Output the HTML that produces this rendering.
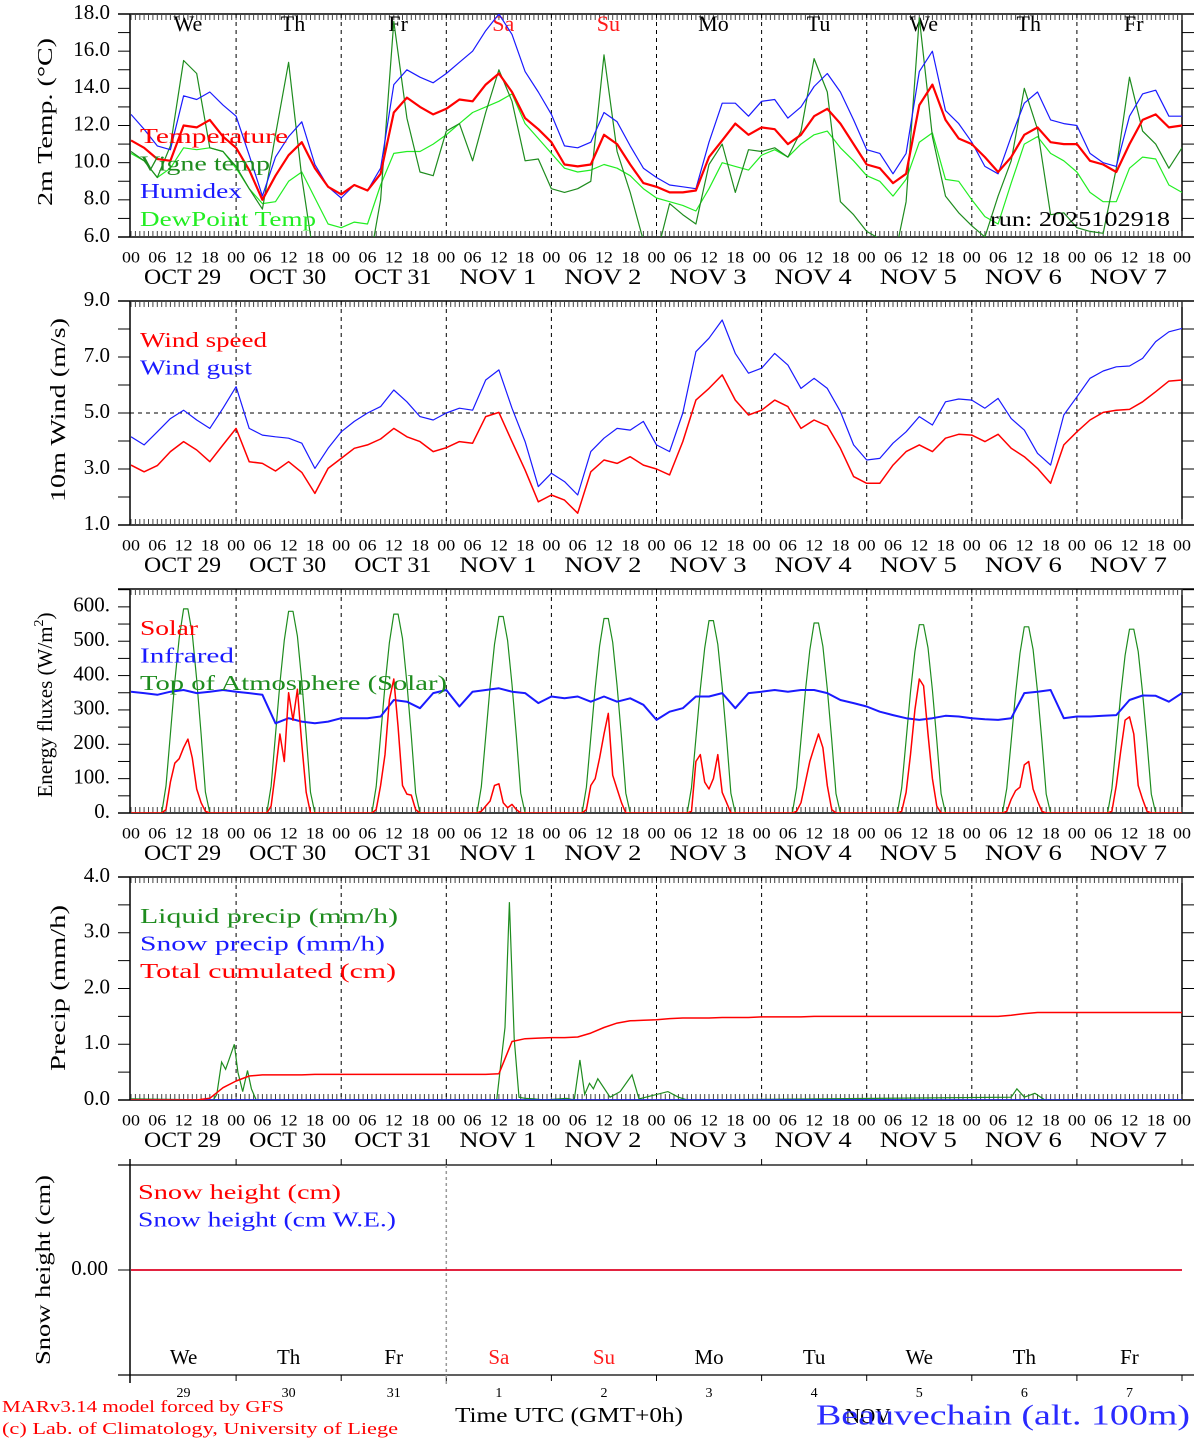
<!DOCTYPE html>
<html><head><meta charset="utf-8"><title>MAR forecast Beauvechain</title>
<style>
html,body{margin:0;padding:0;background:#fff;}
svg{display:block;font-family:"Liberation Serif",serif;}
</style></head>
<body>
<svg id="chart" xmlns="http://www.w3.org/2000/svg" width="1194" height="1440" viewBox="0 0 1194 1440"></svg>
<script>
// ---------- DATA (3-hourly, 81 points from Oct 29 00 UTC) ----------
const dayNames = ["We","Th","Fr","Sa","Su","Mo","Tu","We","Th","Fr"];
const dayNums = ["29","30","31","1","2","3","4","5","6","7"];
const dateLabels = ["OCT 29","OCT 30","OCT 31","NOV  1","NOV  2","NOV  3","NOV  4","NOV  5","NOV  6","NOV  7"];
const hourLabels = ["00","06","12","18"];
const tempTicks = [6,8,10,12,14,16,18];
const windTicks = [1,3,5,7,9];
const fluxTicks = [0,100,200,300,400,500,600];
const precipTicks = [0,1,2,3,4];

const temperature = [11.2,10.8,10.2,10.1,12.0,11.9,12.3,11.4, 10.8,9.6,8.0,9.3,10.4,11.1,9.7,8.7, 8.3,8.8,8.5,9.4,12.7,13.5,13.0,12.6, 12.9,13.4,13.3,14.2,14.8,13.8,12.4,11.8, 11.1,9.9,9.8,9.9,11.5,11.0,9.9,8.9, 8.7,8.4,8.4,8.5,10.3,11.2,12.1,11.5, 11.9,11.8,11.0,11.5,12.5,12.9,12.1,11.0, 9.9,9.7,8.9,9.4,13.1,14.2,12.3,11.3, 11.0,10.3,9.5,10.3,11.5,11.9,11.1,11.0, 11.0,10.1,9.9,9.5,11.0,12.3,12.6,11.9,12.0];
const humidex = [12.6,11.8,10.9,10.7,13.6,13.4,13.8,13.1, 12.5,10.4,8.2,10.3,11.4,12.2,9.9,8.7, 8.1,8.8,8.5,9.7,14.2,15.0,14.6,14.3, 14.8,15.4,16.0,17.1,18.0,16.9,14.9,13.8, 12.6,10.9,10.8,11.1,12.7,12.2,10.9,9.7, 9.2,8.8,8.7,8.6,11.1,13.2,13.2,12.5, 13.3,13.4,12.4,13.0,14.1,14.8,13.8,12.3, 10.7,10.5,9.4,10.5,14.9,16.0,12.8,12.1, 11.1,9.8,9.4,11.4,13.2,13.8,12.3,12.1, 12.0,10.5,10.0,9.8,12.5,13.7,13.9,12.5,12.5];
const dewpoint = [10.5,10.1,9.2,9.7,10.8,10.7,10.8,10.6, 9.7,8.6,7.8,7.9,9.0,9.5,8.1,6.7, 6.5,6.8,6.7,8.8,10.5,10.6,10.6,11.0, 11.5,12.1,12.7,13.0,13.3,13.7,12.1,11.3, 10.5,9.7,9.5,9.6,9.9,9.7,9.3,8.6, 8.1,7.9,7.7,7.4,8.6,10.0,9.8,9.6, 10.4,10.7,10.3,11.0,11.5,11.7,10.8,10.1, 9.3,9.0,8.2,9.1,11.1,11.6,9.1,9.0, 8.0,7.1,6.7,8.9,11.0,11.4,10.5,10.1, 9.5,8.4,7.9,7.9,9.7,10.3,10.2,8.8,8.4];
const vigne = [10.6,10.1,9.2,10.9,15.5,14.8,10.8,10.6, 9.8,8.6,7.5,11.5,15.4,9.2,4.5,4.0, 4.0,4.0,4.0,8.0,17.6,12.4,9.5,9.3, 11.7,12.1,10.1,12.7,15.0,13.3,10.1,10.2, 8.6,8.4,8.6,9.0,15.8,10.6,8.4,5.8, 5.0,7.8,7.2,6.7,9.9,11.0,8.4,10.7, 10.6,10.8,10.3,11.7,15.6,13.8,7.9,7.2, 6.3,5.9,4.5,7.9,17.8,11.4,8.2,7.3, 6.6,6.0,8.2,10.1,14.0,11.8,7.2,7.3, 6.5,6.3,6.2,9.7,14.6,11.7,11.0,9.7,10.8];

const windSpeed = [3.14,2.9,3.12,3.62,3.98,3.68,3.26,3.86, 4.45,3.26,3.2,2.93,3.26,2.88,2.13,3.02, 3.38,3.74,3.86,4.07,4.45,4.15,3.98,3.62, 3.76,3.98,3.92,4.87,5.02,3.98,2.96,1.83, 2.07,1.89,1.42,2.9,3.32,3.2,3.44,3.14, 3.0,2.79,3.98,5.46,5.88,6.36,5.46,4.93, 5.1,5.46,5.23,4.45,4.75,4.54,3.74,2.73, 2.49,2.49,3.14,3.62,3.86,3.62,4.1,4.24, 4.21,3.98,4.24,3.74,3.44,3.02,2.49,3.86, 4.33,4.75,5.02,5.1,5.13,5.4,5.76,6.14,6.18];
const windGust = [4.15,3.86,4.33,4.8,5.1,4.75,4.45,5.17, 5.94,4.45,4.21,4.15,4.1,3.92,3.02,3.74, 4.33,4.7,5.0,5.23,5.82,5.4,4.87,4.75, 5.0,5.17,5.1,6.18,6.54,5.17,3.98,2.37, 2.85,2.55,2.07,3.62,4.1,4.45,4.39,4.7, 3.86,3.62,5.0,7.19,7.67,8.32,7.13,6.42, 6.6,7.13,6.71,5.88,6.24,5.88,5.05,3.86, 3.32,3.38,3.92,4.33,4.87,4.57,5.4,5.5, 5.46,5.17,5.52,4.8,4.39,3.56,3.14,4.93, 5.58,6.24,6.5,6.65,6.68,6.95,7.55,7.9,8.02];

const infrared = [353,349,344,353,358,349,353,358, 353,349,344,261,276,266,261,266, 276,276,276,281,329,324,305,349, 358,310,353,358,363,353,349,320, 339,334,339,324,339,324,334,315, 271,295,305,339,339,349,305,349, 353,358,353,358,358,349,329,320, 310,295,285,276,271,276,283,281, 276,273,271,276,349,353,358,276, 281,281,283,285,329,342,341,324,349];

// hourly (241 points)
const toaSolar = [
0,0,0,0,0,0,0,0,79,230,382,509,594,594,521,388,230,61,0,0,0,0,0,0,
0,0,0,0,0,0,0,0,78,228,377,503,587,587,515,383,228,60,0,0,0,0,0,0,
0,0,0,0,0,0,0,0,77,225,372,496,579,579,508,378,225,59,0,0,0,0,0,0,
0,0,0,0,0,0,0,0,76,222,368,491,572,572,502,374,222,58,0,0,0,0,0,0,
0,0,0,0,0,0,0,0,75,220,364,486,566,566,497,370,220,58,0,0,0,0,0,0,
0,0,0,0,0,0,0,0,74,217,360,480,560,560,491,365,217,57,0,0,0,0,0,0,
0,0,0,0,0,0,0,0,73,214,355,474,553,553,485,361,214,56,0,0,0,0,0,0,
0,0,0,0,0,0,0,0,73,212,352,470,548,548,481,358,212,56,0,0,0,0,0,0,
0,0,0,0,0,0,0,0,72,210,348,465,542,542,476,354,210,55,0,0,0,0,0,0,
0,0,0,0,0,0,0,0,71,207,344,459,535,535,470,349,207,55,0,0,0,0,0,0,0];
const solar = [
0,0,0,0,0,0,0,0,10,90,145,158,190,215,160,70,30,5,0,0,0,0,0,0,
0,0,0,0,0,0,0,0,20,120,230,150,350,270,360,200,60,0,0,0,0,0,0,0,
0,0,0,0,0,0,0,0,10,80,170,330,390,250,80,55,52,10,0,0,0,0,0,0,
0,0,0,0,0,0,0,0,5,20,35,80,85,30,15,25,10,0,0,0,0,0,0,0,
0,0,0,0,0,0,0,0,10,80,100,160,230,290,110,70,30,0,0,0,0,0,0,0,
0,0,0,0,0,0,0,0,5,150,170,90,70,100,170,60,30,0,0,0,0,0,0,0,
0,0,0,0,0,0,0,0,5,30,90,150,190,230,190,80,10,0,0,0,0,0,0,0,
0,0,0,0,0,0,0,0,5,60,170,300,390,370,230,100,20,0,0,0,0,0,0,0,
0,0,0,0,0,0,0,0,5,40,65,75,140,150,70,35,5,0,0,0,0,0,0,0,
0,0,0,0,0,0,0,0,5,80,180,270,280,230,80,40,5,0,0,0,0,0,0,0,0];

const liquidHours = [0,18.8,19.6,20.7,21.6,22.5,23.6,24.4,25.5,26.6,27.5,28.6,83.5,85.4,86.4,87.5,88.6,89.9,92,94.3,99.5,101.2,102.5,103.6,104.7,105.6,106.6,109.4,111.7,114.4,116,122.6,125,127,201,202.3,204,206.4,208.7,240];
const liquidVals  = [0.02,0,0.1,0.68,0.55,0.75,1.0,0.5,0.15,0.53,0.2,0,0,1.3,3.55,1.1,0.05,0.03,0.02,0,0.03,0,0.72,0.1,0.3,0.2,0.38,0.05,0.15,0.45,0.02,0.15,0.05,0,0.05,0.2,0.05,0.12,0,0];
const snowPrecip = [0,0,0,0,0,0,0,0,0,0,0];
const totalCum = [0,0,0,0,0,0,0.03,0.22, 0.34,0.43,0.45,0.45,0.45,0.45,0.46,0.46, 0.46,0.46,0.46,0.46,0.46,0.46,0.46,0.46, 0.46,0.46,0.46,0.46,0.47,1.05,1.1,1.11, 1.12,1.12,1.13,1.2,1.3,1.38,1.42,1.43, 1.44,1.46,1.47,1.47,1.47,1.48,1.48,1.48, 1.49,1.49,1.49,1.49,1.5,1.5,1.5,1.5, 1.5,1.5,1.5,1.5,1.5,1.5,1.5,1.5, 1.5,1.5,1.5,1.52,1.55,1.57,1.57,1.57, 1.57,1.57,1.57,1.57,1.57,1.57,1.57,1.57,1.57];
const snowHeight = [0,0,0,0,0,0,0,0,0,0,0];
const snowWE = [0,0,0,0,0,0,0,0,0,0,0];

// ---------- DRAWING ----------
const NS = "http://www.w3.org/2000/svg";
const svg = document.getElementById("chart");
const X0 = 131, X1 = 1182;
function xh(h){ return X0 + h*(X1-X0)/240; }
function mk(tag, attrs, parent){
  const e = document.createElementNS(NS, tag);
  for (const k in attrs) e.setAttribute(k, attrs[k]);
  (parent||svg).appendChild(e);
  return e;
}
function txt(str, x, y, opt, name){
  const e = mk("text", {x:x, y:y, "font-size":opt.size||20, fill:opt.fill||"#000", "text-anchor":opt.anchor||"start", "dominant-baseline":"middle"});
  if (opt.len){ e.setAttribute("textLength", opt.len); e.setAttribute("lengthAdjust","spacingAndGlyphs"); }
  if (opt.rot){ e.setAttribute("transform", "rotate(-90 "+x+" "+y+")"); e.setAttribute("text-anchor","middle"); }
  if (opt.weight) e.setAttribute("font-weight", opt.weight);
  e.setAttribute("xml:space","preserve");
  e.textContent = str;
  
  
  return e;
}
const panels = [
  {id:"temp", top:14, bot:237, vmin:6, vmax:18},
  {id:"wind", top:301, bot:525, vmin:1, vmax:9},
  {id:"flux", top:589, bot:813, vmin:0, vmax:652},
  {id:"precip", top:877, bot:1100, vmin:0, vmax:4},
  {id:"snow", top:1165, bot:1375, vmin:-1, vmax:1}
];
function ym(p, v){ return p.bot - (v-p.vmin)/(p.vmax-p.vmin)*(p.bot-p.top); }

const defs = mk("defs", {});
panels.forEach(p=>{
  const cp = mk("clipPath", {id:"clip-"+p.id}, defs);
  mk("rect", {x:X0, y:p.top, width:X1-X0, height:p.bot-p.top}, cp);
});

function series(p, vals, stepH, color, width, name){
  let d = "";
  vals.forEach((v,i)=>{ d += (i? "L":"M") + xh(i*stepH).toFixed(1) + "," + ym(p,v).toFixed(1); });
  const e = mk("path", {d:d, fill:"none", stroke:color, "stroke-width":width, "clip-path":"url(#clip-"+p.id+")", "stroke-linejoin":"round"});
  
  
  return e;
}
function seriesXY(p, hrs, vals, color, width, name){
  let d = "";
  vals.forEach((v,i)=>{ d += (i? "L":"M") + xh(hrs[i]).toFixed(1) + "," + ym(p,v).toFixed(1); });
  const e = mk("path", {d:d, fill:"none", stroke:color, "stroke-width":width, "clip-path":"url(#clip-"+p.id+")"});
  
  
  return e;
}

function frame(p, ticks, fmt, minorStep, hourly, axisName){
  const g = mk("g", {});
  
  
  mk("line", {x1:118, y1:p.top, x2:1194, y2:p.top, stroke:"#000", "stroke-width":1.5}, g);
  mk("line", {x1:118, y1:p.bot, x2:1194, y2:p.bot, stroke:"#000", "stroke-width":1.5}, g);
  mk("line", {x1:130, y1:p.top, x2:130, y2:p.bot+(hourly?0:8), stroke:"#000", "stroke-width":1.5}, g);
  if (hourly) mk("line", {x1:1182, y1:p.top, x2:1182, y2:p.bot, stroke:"#000", "stroke-width":1.5}, g);
  for (let v=p.vmin; v<=p.vmax+1e-6; v+=minorStep){
    const y = ym(p,v);
    if (y < p.top-0.5) continue;
    mk("line", {x1:118, y1:y, x2:130, y2:y, stroke:"#000", "stroke-width":1}, g);
    if (hourly) mk("line", {x1:1182, y1:y, x2:1194, y2:y, stroke:"#000", "stroke-width":1}, g);
  }
  ticks.forEach(v=>{
    txt(fmt(v), 110, ym(p,v), {size:21, anchor:"end"}, "y-tick-"+p.id);
  });
  if (hourly){
    let d = "";
    for (let h=0; h<=240; h++){
      const x = xh(h).toFixed(1);
      d += "M"+x+","+p.top+"v6M"+x+","+p.bot+"v-6";
    }
    mk("path", {d:d, stroke:"#444", "stroke-width":1}, g);
    for (let k=1;k<10;k++){
      const x = xh(k*24);
      mk("line", {x1:x, y1:p.top, x2:x, y2:p.bot, stroke:"#000", "stroke-width":1, "stroke-dasharray":"4,4"}, g);
    }
    for (let k=0;k<10;k++){
      hourLabels.forEach((lab,j)=>{
        txt(lab, xh(k*24+j*6), p.bot+22, {size:16, anchor:"middle", len:18}, "x-tick-hour");
      });
      txt(dateLabels[k], xh(k*24+12)-1, p.bot+42, {size:22, anchor:"middle", len:77}, "x-date-label");
    }
    txt("00", xh(240), p.bot+22, {size:16, anchor:"middle", len:18}, "x-tick-hour");
  }
}
function legend(items, x, y0){
  items.forEach((it,i)=>{
    txt(it[0], x, y0+i*27.7, {size:21, fill:it[1], len:it[2]}, "legend-entry");
  });
}

// Panel 1: temperature
const p1 = panels[0];
frame(p1, tempTicks, v=>v.toFixed(1), 1, true, "temperature-axes");
txt("2m Temp. (\u00B0C)", 47, 122, {size:21, rot:true, len:168}, "y-axis-title-temp");
dayNames.forEach((d,k)=>{
  txt(d, xh(k*24+13), 26, {size:22, anchor:"middle", fill:(k==3||k==4)?"#ff1a1a":"#000"}, "day-name");
});
series(p1, dewpoint, 3, "#22ee22", 1.2, "dewpoint-line");
series(p1, vigne, 3, "#1e8c1e", 1.2, "vigne-temp-line");
series(p1, humidex, 3, "#1a1aff", 1.2, "humidex-line");
series(p1, temperature, 3, "#ff0000", 2.2, "temperature-line");
legend([["Temperature","#ff0000",148],["Vigne temp","#1e8c1e",130],["Humidex","#1a1aff",102],["DewPoint Temp","#22ee22",176]], 140, 138);
txt("run: 2025102918", 990, 221, {size:21, len:180}, "run-label");

// Panel 2: wind
const p2 = panels[1];
frame(p2, windTicks, v=>v.toFixed(1), 1, true, "wind-axes");
mk("line", {x1:130, y1:ym(p2,5), x2:1182, y2:ym(p2,5), stroke:"#000", "stroke-width":1, "stroke-dasharray":"4,4"});
txt("10m Wind (m/s)", 60, 410, {size:21, rot:true, len:184}, "y-axis-title-wind");
series(p2, windGust, 3, "#1a1aff", 1.2, "wind-gust-line");
series(p2, windSpeed, 3, "#ff0000", 1.5, "wind-speed-line");
legend([["Wind speed","#ff0000",127],["Wind gust","#1a1aff",112]], 140, 342);

// Panel 3: energy fluxes
const p3 = panels[2];
frame(p3, fluxTicks, v=>v.toFixed(0)+".", 50, true, "flux-axes");
const et = txt("Energy fluxes (W/m", 47, 705, {size:21, rot:true}, "y-axis-title-flux");
const sup = document.createElementNS(NS,"tspan"); sup.setAttribute("dy","-7"); sup.setAttribute("font-size","14"); sup.textContent="2"; et.appendChild(sup);
const cl = document.createElementNS(NS,"tspan"); cl.setAttribute("dy","7"); cl.textContent=")"; et.appendChild(cl);
series(p3, toaSolar, 1, "#1e8c1e", 1.2, "toa-solar-line");
series(p3, infrared, 3, "#1a1aff", 2, "infrared-line");
series(p3, solar, 1, "#ff0000", 1.5, "solar-line");
legend([["Solar","#ff0000",58],["Infrared","#1a1aff",94],["Top of Atmosphere (Solar)","#1e8c1e",307]], 140, 630);

// Panel 4: precip
const p4 = panels[3];
frame(p4, precipTicks, v=>v.toFixed(1), 0.5, true, "precip-axes");
txt("Precip (mm/h)", 60, 988, {size:21, rot:true, len:166}, "y-axis-title-precip");
seriesXY(p4, liquidHours, liquidVals, "#1e8c1e", 1.2, "liquid-precip-line");
series(p4, snowPrecip, 24, "#1a1aff", 1.5, "snow-precip-line");
series(p4, totalCum, 3, "#ff0000", 1.5, "total-cumulated-line");
legend([["Liquid precip (mm/h)","#1e8c1e",258],["Snow precip (mm/h)","#1a1aff",245],["Total cumulated (cm)","#ff0000",256]], 140, 918);

// Panel 5: snow height
const p5 = panels[4];
const g5 = mk("g", {});


mk("line", {x1:118, y1:p5.top, x2:1194, y2:p5.top, stroke:"#000", "stroke-width":1.2}, g5);
mk("line", {x1:118, y1:p5.bot, x2:1194, y2:p5.bot, stroke:"#000", "stroke-width":1.2}, g5);
mk("line", {x1:130, y1:p5.top-6, x2:130, y2:p5.bot+8, stroke:"#000", "stroke-width":1.5}, g5);
mk("line", {x1:118, y1:1270, x2:130, y2:1270, stroke:"#000", "stroke-width":1}, g5);
for (let k=1;k<=10;k++){
  const x = xh(k*24);
  mk("line", {x1:x, y1:p5.top-6, x2:x, y2:p5.top, stroke:"#000", "stroke-width":1}, g5);
  mk("line", {x1:x, y1:p5.bot, x2:x, y2:p5.bot+6, stroke:"#000", "stroke-width":1}, g5);
}
mk("line", {x1:xh(72), y1:p5.top, x2:xh(72), y2:p5.bot+12, stroke:"#999", "stroke-width":1.5, "stroke-dasharray":"3,3"}, g5);
txt("0.00", 108, 1270, {size:21, anchor:"end"}, "y-tick-snow");
txt("Snow height (cm)", 45, 1270, {size:21, rot:true, len:190}, "y-axis-title-snow");
series(p5, snowWE, 24, "#1a1aff", 1.5, "snow-we-line");
series(p5, snowHeight, 24, "#ff0000", 1.5, "snow-height-line");
legend([["Snow height (cm)","#ff0000",203],["Snow height (cm W.E.)","#1a1aff",258]], 138, 1194);
dayNames.forEach((d,k)=>{
  txt(d, xh(k*24+12), 1359, {size:21, anchor:"middle", fill:(k==3||k==4)?"#ff1a1a":"#000"}, "day-name-bottom");
  txt(dayNums[k], xh(k*24+12), 1394, {size:14, anchor:"middle"}, "day-number");
});

txt("MARv3.14 model forced by GFS", 2, 1408, {size:17, fill:"#ff0000", len:282}, "model-credit");
txt("(c) Lab. of Climatology, University of Liege", 2, 1430, {size:17, fill:"#ff0000", len:396}, "lab-credit");
txt("Time UTC (GMT+0h)", 455, 1417, {size:21, len:228}, "x-axis-title");
txt("NOV", 845, 1418, {size:21}, "month-label");
txt("Beauvechain (alt. 100m)", 816, 1418, {size:28, fill:"#2a2aff", len:374}, "station-title");
</script>
</body></html>
